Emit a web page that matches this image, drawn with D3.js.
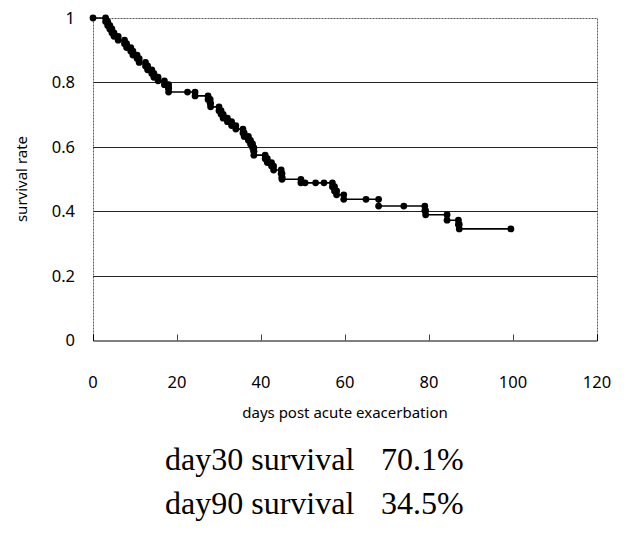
<!DOCTYPE html>
<html>
<head>
<meta charset="utf-8">
<script src="https://cdn.jsdelivr.net/npm/d3@7"></script>
<style>
  body { margin: 0; background: #fff; }
  svg { display: block; }
</style>
</head>
<body>
<div id="chart"></div>
<script>
// event days and survival after each event
const eventDays = [3, 3.5, 4, 4.5, 5, 6, 7.5, 8, 9, 9.5, 10.5, 11, 12.5, 13, 14, 14.5, 15.5, 17,
  18, 18, 22.5, 24.3, 27.4, 27.9, 28, 30, 30.5, 31, 32, 33, 34, 35.7, 36, 37, 37.5, 38, 38.3, 38.3,
  41, 41.5, 42.5, 43, 44.8, 45, 45, 49.5, 50.5, 53, 55, 57, 57.5, 58, 59.7, 65, 68, 74,
  79, 79.2, 84.3, 87, 87.2, 99.5];
const eventSurv = [0.989, 0.977, 0.966, 0.954, 0.943, 0.931, 0.920, 0.908, 0.897, 0.885, 0.874, 0.862, 0.851, 0.839, 0.828, 0.816, 0.805, 0.793,
  0.782, 0.770, 0.770, 0.758, 0.747, 0.735, 0.724, 0.712, 0.701, 0.689, 0.678, 0.666, 0.655, 0.643, 0.632, 0.620, 0.609, 0.597, 0.586, 0.574,
  0.563, 0.551, 0.540, 0.528, 0.517, 0.505, 0.499, 0.488, 0.488, 0.488, 0.488, 0.476, 0.463, 0.451, 0.437, 0.437, 0.416, 0.416,
  0.402, 0.389, 0.372, 0.359, 0.345, 0.345];

const xTicks = [0, 20, 40, 60, 80, 100, 120];
const yTicks = [0, 0.2, 0.4, 0.6, 0.8, 1];
const summaryLabels = ["day30 survival", "day90 survival"];
const summaryValues = ["70.1%", "34.5%"];

const width = 631, height = 535;
const margin = {top: 18, right: 34, bottom: 195, left: 93};

const svg = d3.select("#chart").append("svg")
    .attr("width", width)
    .attr("height", height);

const x = d3.scaleLinear().domain([0, 120]).range([margin.left, width - margin.right]);
const y = d3.scaleLinear().domain([0, 1]).range([height - margin.bottom, margin.top]);

const axisFont = "'Noto Sans', 'Open Sans', sans-serif";

// gridlines
svg.selectAll("line.grid")
    .data(yTicks.filter(t => t > 0 && t < 1))
    .enter().append("line")
    .attr("class", "grid")
    .attr("x1", x(0)).attr("x2", x(120))
    .attr("y1", d => Math.round(y(d)) + 0.5).attr("y2", d => Math.round(y(d)) + 0.5)
    .attr("stroke", "#222").attr("stroke-width", 1);

// dotted frame: top, right, left
const frame = [
  [x(0), y(1), x(120), y(1)],
  [x(120), y(1), x(120), y(0)],
  [x(0), y(1), x(0), y(0)]
];
svg.selectAll("line.frame")
    .data(frame)
    .enter().append("line")
    .attr("class", "frame")
    .attr("x1", d => Math.round(d[0]) + 0.5).attr("y1", d => Math.round(d[1]) + 0.5)
    .attr("x2", d => Math.round(d[2]) + 0.5).attr("y2", d => Math.round(d[3]) + 0.5)
    .attr("stroke", "#555").attr("stroke-width", 1)
    .attr("stroke-dasharray", "2,1");

// x axis
const xAxis = svg.append("g")
    .attr("transform", `translate(0,${Math.round(y(0)) + 0.5})`)
    .call(d3.axisTop(x).tickValues(xTicks).tickSize(6).tickFormat(""));
xAxis.select(".domain").attr("stroke", "#000");
xAxis.selectAll(".tick line").attr("stroke", "#444");
xAxis.selectAll(".tick").filter(d => d === 0 || d === 120).select("line").remove();

svg.selectAll("text.xlab")
    .data(xTicks)
    .enter().append("text")
    .attr("class", "xlab")
    .attr("x", d => x(d))
    .attr("y", y(0) + 48)
    .attr("text-anchor", "middle")
    .style("font-family", axisFont)
    .style("font-size", "16.5px")
    .text(d => d);

svg.selectAll("text.ylab")
    .data(yTicks)
    .enter().append("text")
    .attr("class", "ylab")
    .attr("x", x(0) - 18)
    .attr("y", d => y(d) + 6)
    .attr("text-anchor", "end")
    .style("font-family", axisFont)
    .style("font-size", "16.5px")
    .text(d => d);

// axis titles
svg.append("text")
    .attr("x", 345).attr("y", 418)
    .attr("text-anchor", "middle")
    .style("font-family", axisFont)
    .style("font-size", "15px")
    .text("days post acute exacerbation");

svg.append("text")
    .attr("transform", `translate(27,${(y(0) + y(1)) / 2}) rotate(-90)`)
    .attr("text-anchor", "middle")
    .style("font-family", axisFont)
    .style("font-size", "15px")
    .text("survival rate");

// step curve vertices
const pts = [{d: 0, s: 1}];
let prev = 1;
eventDays.forEach((d, i) => {
    const s = eventSurv[i];
    if (s !== prev) pts.push({d: d, s: prev});
    pts.push({d: d, s: s});
    prev = s;
});

const line = d3.line().x(p => x(p.d)).y(p => y(p.s));
svg.append("path")
    .datum(pts)
    .attr("d", line)
    .attr("fill", "none")
    .attr("stroke", "#000")
    .attr("stroke-width", 1.6);

svg.selectAll("circle.pt")
    .data(pts)
    .enter().append("circle")
    .attr("class", "pt")
    .attr("cx", p => x(p.d))
    .attr("cy", p => y(p.s))
    .attr("r", 3.4)
    .attr("fill", "#000");

// summary text
const serif = "'Liberation Serif', 'Times New Roman', serif";
summaryLabels.forEach((t, i) => {
    svg.append("text")
        .attr("x", 165).attr("y", 470 + i * 44)
        .style("font-family", serif)
        .style("font-size", "32px")
        .text(t);
    svg.append("text")
        .attr("x", 381).attr("y", 470 + i * 44)
        .style("font-family", serif)
        .style("font-size", "32px")
        .text(summaryValues[i]);
});
</script>
</body>
</html>
